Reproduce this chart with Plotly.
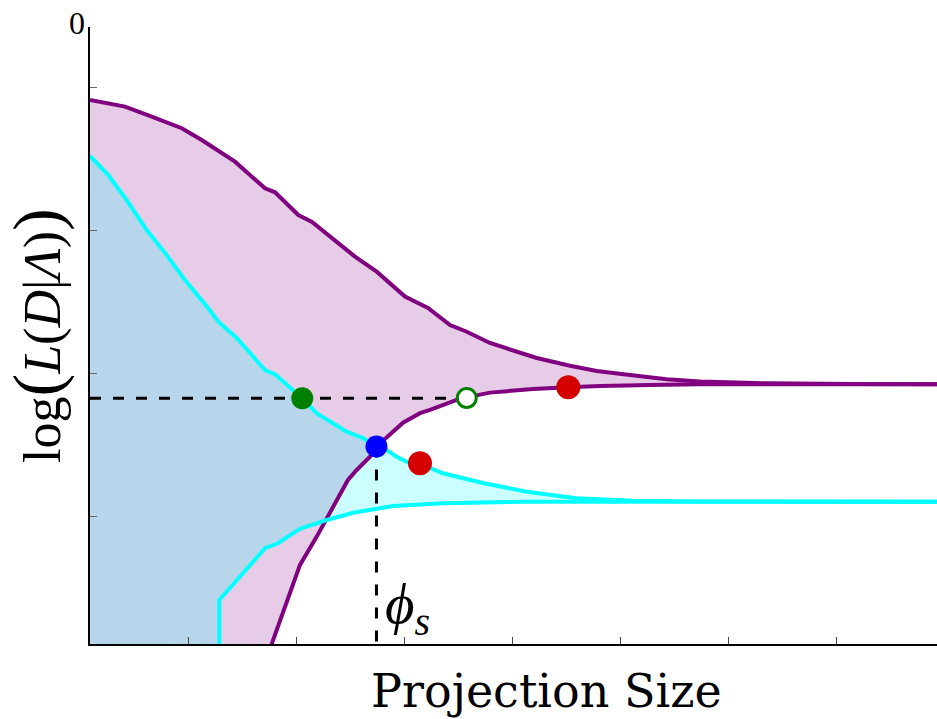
import plotly.graph_objects as go

# ---- data (x: projection size units, y: log-likelihood units) ----
purple_upper_x = [0.93, 4.17, 6.64, 9.42, 11.27, 14.35, 17.13, 18.06, 20.21, 21.45, 25.46, 27.5, 30.09, 31.18,
                  32.22, 34.26, 35.81, 37.96, 39.81, 42.29, 45.37, 47.84, 50.93, 54.32, 57.41, 63.58, 71.30, 79.35]
purple_upper_y = [-5.10, -5.57, -6.27, -7.08, -7.90, -9.42, -11.28, -11.56, -13.15, -13.62, -16.06, -17.13, -18.85,
                  -19.30, -19.65, -20.84, -21.31, -22.10, -22.52, -23.15, -23.69, -24.06, -24.34, -24.64, -24.79,
                  -24.92, -24.97, -24.99]

purple_lower_x = [0.93, 16.67, 17.75, 20.37, 21.92, 23.43, 24.81, 25.62, 26.85, 27.45, 29.91, 31.48, 32.41, 34.88,
                  35.81, 37.96, 41.94, 45.19, 48.15, 52.78, 57.41, 79.35]
purple_lower_y = [-50.0, -47.06, -43.15, -37.62, -35.64, -33.55, -31.68, -30.98, -30.05, -29.34, -27.67, -27.01,
                  -26.78, -26.08, -25.90, -25.57, -25.31, -25.20, -25.10, -25.03, -24.99, -24.99]

cyan_upper_x = [0.93, 2.62, 4.32, 6.18, 7.87, 9.72, 11.88, 12.81, 14.51, 17.13, 18.06, 18.82, 20.58, 21.92, 24.69,
                26.20, 27.45, 28.40, 29.32, 30.56, 32.41, 33.61, 37.31, 41.36, 45.99, 51.20, 57.41, 79.35]
cyan_upper_y = [-9.02, -10.35, -12.10, -14.20, -15.80, -17.69, -19.67, -20.61, -21.75, -23.99, -24.29, -24.80,
                -25.97, -27.01, -28.30, -28.74, -29.34, -29.58, -30.05, -30.51, -30.84, -31.21, -31.89, -32.50,
                -32.96, -33.13, -33.18, -33.20]

cyan_lower_x = [0.93, 12.90, 12.90, 17.13, 18.21, 20.37, 22.84, 25.31, 28.98, 33.61, 41.36, 79.35]
cyan_lower_y = [-50.0, -50.0, -40.07, -36.45, -36.15, -35.10, -34.48, -33.97, -33.50, -33.31, -33.20, -33.20]

green_pt = (20.58, -25.97)
green_open_pt = (35.81, -25.94)
blue_pt = (27.45, -29.34)
red_x = [31.48, 45.21]
red_y = [-30.51, -25.20]

x_ticks = [10, 20, 30, 40, 50, 60, 70]
y_ticks = [-4.2, -14.2, -24.2, -34.2]
x_range = [0.926, 79.35]
y_range = [-43.15, 0]

PURPLE = "#800080"
CYAN = "#00ffff"
SERIF = "Liberation Serif, Times New Roman, serif"
WIDE_SERIF = "DejaVu Serif, serif"

fig = go.Figure()

# fills
fig.add_trace(go.Scatter(x=purple_lower_x, y=purple_lower_y, mode="lines", line=dict(width=0), hoverinfo="skip"))
fig.add_trace(go.Scatter(x=purple_upper_x, y=purple_upper_y, mode="lines", line=dict(width=0),
                         fill="tonexty", fillcolor="rgba(128,0,128,0.2)", hoverinfo="skip"))
fig.add_trace(go.Scatter(x=cyan_lower_x, y=cyan_lower_y, mode="lines", line=dict(width=0), hoverinfo="skip"))
fig.add_trace(go.Scatter(x=cyan_upper_x, y=cyan_upper_y, mode="lines", line=dict(width=0),
                         fill="tonexty", fillcolor="rgba(0,255,255,0.2)", hoverinfo="skip"))

# lines
for xs, ys, c in [(purple_upper_x, purple_upper_y, PURPLE), (purple_lower_x, purple_lower_y, PURPLE),
                  (cyan_upper_x, cyan_upper_y, CYAN), (cyan_lower_x, cyan_lower_y, CYAN)]:
    fig.add_trace(go.Scatter(x=xs, y=ys, mode="lines", line=dict(color=c, width=4)))

# dashed guides
fig.add_trace(go.Scatter(x=[x_range[0], green_open_pt[0]], y=[green_pt[1], green_pt[1]], mode="lines",
                         line=dict(color="black", width=3, dash="11px,12px")))
fig.add_trace(go.Scatter(x=[blue_pt[0], blue_pt[0]], y=[blue_pt[1], y_range[0]], mode="lines",
                         line=dict(color="black", width=3, dash="11px,12px")))

# markers
fig.add_trace(go.Scatter(x=[green_pt[0]], y=[green_pt[1]], mode="markers",
                         marker=dict(color="#008000", size=22, line=dict(width=0))))
fig.add_trace(go.Scatter(x=[green_open_pt[0]], y=[green_open_pt[1]], mode="markers",
                         marker=dict(color="white", size=19, line=dict(color="#008000", width=3))))
fig.add_trace(go.Scatter(x=[blue_pt[0]], y=[blue_pt[1]], mode="markers",
                         marker=dict(color="#0000ff", size=22, line=dict(width=0))))
fig.add_trace(go.Scatter(x=red_x, y=red_y, mode="markers",
                         marker=dict(color="#d40000", size=24, line=dict(width=0))))

fig.update_layout(
    width=937, height=719,
    margin=dict(l=90, r=0, t=27, b=75),
    paper_bgcolor="white", plot_bgcolor="white",
    showlegend=False,
    xaxis=dict(range=x_range, showgrid=False, zeroline=False, showline=True, linecolor="black", linewidth=2,
               ticks="inside", ticklen=7, tickwidth=1, tickcolor="#444", tickvals=x_ticks, showticklabels=False),
    yaxis=dict(range=y_range, showgrid=False, zeroline=False, showline=True, linecolor="black", linewidth=2,
               ticks="inside", ticklen=7, tickwidth=1, tickcolor="#666", tickvals=y_ticks, showticklabels=False),
    annotations=[
        dict(text="0", xref="paper", yref="paper", x=-0.004, y=1.0065, xanchor="right", yanchor="middle",
             showarrow=False, font=dict(family=SERIF, size=32, color="black")),
        dict(text="log<span style='font-size:68px'>(</span><i>L</i>(<i>D</i>|<i>Λ</i>)<span style='font-size:68px'>)</span>",
             xref="paper", yref="paper", x=-0.0626, y=0.5008, xanchor="center", yanchor="middle", textangle=-90,
             showarrow=False, font=dict(family=SERIF, size=52, color="black")),
        dict(text="Projection Size", xref="paper", yref="paper", x=0.5384, y=-0.076, xanchor="center",
             yanchor="middle", showarrow=False, font=dict(family=WIDE_SERIF, size=46, color="black")),
        dict(text="<i>ϕ<sub>s</sub></i>", xref="x", yref="y", x=28.1, y=-40.6, xanchor="left",
             yanchor="middle", showarrow=False, font=dict(family=SERIF, size=57, color="black")),
    ],
)

fig.write_html("out.html")
